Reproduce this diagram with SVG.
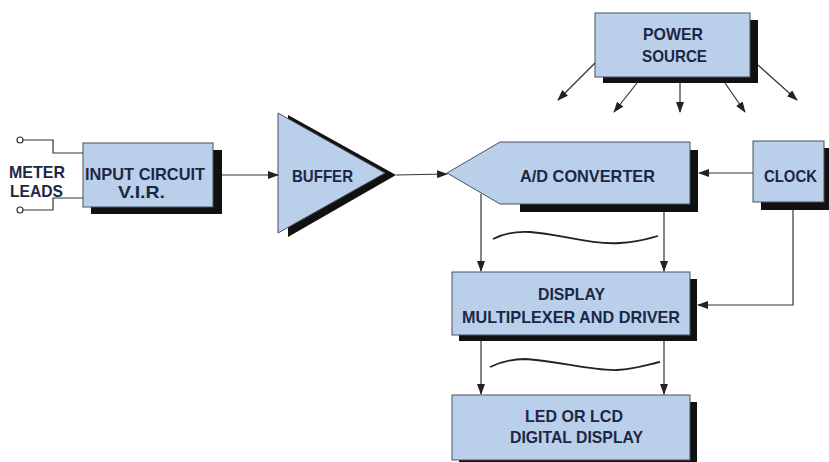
<svg xmlns="http://www.w3.org/2000/svg" width="829" height="462" viewBox="0 0 829 462">
<style>
.box{fill:#b9cfea;stroke:#4a5060;stroke-width:1}
.sh{fill:#111}
.lbl{font-family:"Liberation Sans",Arial,sans-serif;font-weight:bold;font-size:17px;fill:#1c2745;text-anchor:start}
.ln{fill:none;stroke:#333;stroke-width:1.2}
.arr{fill:none;stroke:#333;stroke-width:1.2;marker-end:url(#ah)}
.wave{fill:none;stroke:#222;stroke-width:1.8}
</style>
<defs>
<marker id="ah" markerUnits="userSpaceOnUse" markerWidth="11" markerHeight="8" refX="10" refY="4" orient="auto">
<path d="M0,0 L11,4 L0,8 z" fill="#222"/>
</marker>
</defs>
<rect width="829" height="462" fill="#ffffff"/>

<g id="meter-leads">
<circle cx="20" cy="140" r="3" fill="#fff" stroke="#333" stroke-width="1.2"/>
<circle cx="20" cy="210" r="3" fill="#fff" stroke="#333" stroke-width="1.2"/>
<text class="lbl" x="9" y="178" textLength="56" lengthAdjust="spacingAndGlyphs">METER</text>
<text class="lbl" x="10" y="197" textLength="53" lengthAdjust="spacingAndGlyphs">LEADS</text>
</g>

<g id="input-circuit">
<rect class="sh" x="91" y="150" width="131" height="64"/>
<rect class="box" x="83" y="143" width="130" height="64"/>
<text class="lbl" x="85" y="180" textLength="120" lengthAdjust="spacingAndGlyphs">INPUT CIRCUIT</text>
<text class="lbl" x="118" y="198" textLength="47" lengthAdjust="spacingAndGlyphs">V.I.R.</text>
</g>

<g id="buffer">
<polygon class="sh" points="288,115 288,237 396,175"/>
<polygon class="box" points="278,113 278,233 385,173"/>
<text class="lbl" x="292" y="182" textLength="61" lengthAdjust="spacingAndGlyphs">BUFFER</text>
</g>

<g id="ad-converter">
<polygon class="sh" points="520,150 698,150 698,212 520,212"/>
<polygon class="box" points="447,173 500,142 690,142 690,204 500,204"/>
<text class="lbl" x="520" y="182" textLength="135" lengthAdjust="spacingAndGlyphs">A/D CONVERTER</text>
</g>

<g id="clock">
<rect class="sh" x="761" y="148" width="68" height="62"/>
<rect class="box" x="753" y="141" width="71" height="61"/>
<text class="lbl" x="764" y="182" textLength="53" lengthAdjust="spacingAndGlyphs">CLOCK</text>
</g>

<g id="power-source">
<rect class="sh" x="603" y="20" width="155" height="63"/>
<rect class="box" x="595" y="13" width="155" height="64"/>
<text class="lbl" x="643" y="40" textLength="60" lengthAdjust="spacingAndGlyphs">POWER</text>
<text class="lbl" x="642" y="62" textLength="65" lengthAdjust="spacingAndGlyphs">SOURCE</text>
</g>

<g id="multiplexer">
<rect class="sh" x="459" y="279" width="238" height="62"/>
<rect class="box" x="452" y="272" width="238" height="63"/>
<text class="lbl" x="538" y="300" textLength="67" lengthAdjust="spacingAndGlyphs">DISPLAY</text>
<text class="lbl" x="462" y="323" textLength="218" lengthAdjust="spacingAndGlyphs">MULTIPLEXER AND DRIVER</text>
</g>

<g id="display">
<rect class="sh" x="459" y="402" width="238" height="62"/>
<rect class="box" x="452" y="395" width="238" height="65"/>
<text class="lbl" x="525" y="422" textLength="98" lengthAdjust="spacingAndGlyphs">LED OR LCD</text>
<text class="lbl" x="510" y="443" textLength="133" lengthAdjust="spacingAndGlyphs">DIGITAL DISPLAY</text>
</g>

<g id="connectors">
<polyline class="ln" points="23,140 53,140 53,153 83,153"/>
<polyline class="ln" points="23,210 53,210 53,198 83,198"/>
<line class="arr" x1="222" y1="175" x2="278" y2="175"/>
<line class="arr" x1="396" y1="175" x2="447" y2="174"/>
<line class="arr" x1="753" y1="173" x2="699" y2="173"/>
<polyline class="arr" points="793,210 793,305 698,305"/>
<line class="arr" x1="595" y1="63" x2="558" y2="100"/>
<line class="arr" x1="637" y1="83" x2="614" y2="112"/>
<line class="arr" x1="680" y1="83" x2="680" y2="112"/>
<line class="arr" x1="725" y1="83" x2="745" y2="112"/>
<line class="arr" x1="758" y1="65" x2="797" y2="100"/>
<line class="arr" x1="481" y1="194" x2="481" y2="271"/>
<line class="arr" x1="664" y1="212" x2="664" y2="271"/>
<line class="arr" x1="481" y1="341" x2="481" y2="394"/>
<line class="arr" x1="664" y1="341" x2="664" y2="394"/>
<path class="wave" d="M493,239 C505,233 515,231 530,232 C560,234 590,245 620,243 C640,242 650,238 658,236"/>
<path class="wave" d="M490,367 C503,361 512,359 525,359 C560,361 590,371 617,370 C637,369 650,364 660,362"/>
</g>
</svg>
